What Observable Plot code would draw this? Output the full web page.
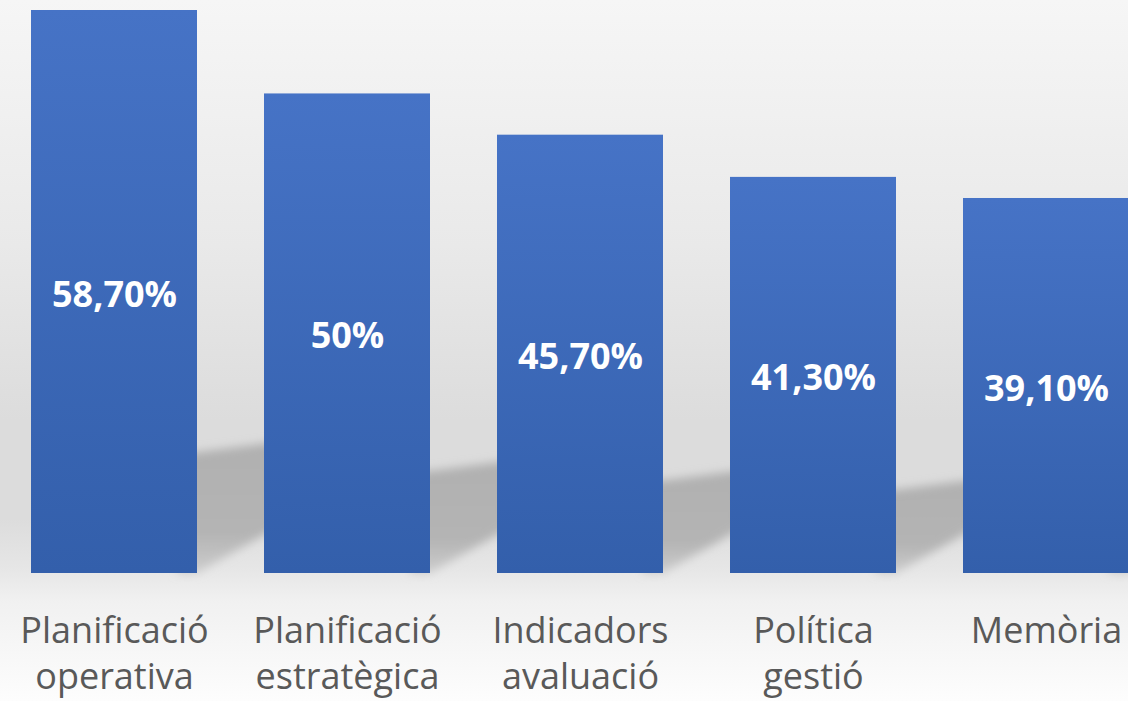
<!DOCTYPE html>
<html>
<head>
<meta charset="utf-8">
<script src="https://cdn.jsdelivr.net/npm/d3@7"></script>
<script src="https://cdn.jsdelivr.net/npm/@observablehq/plot@0.6"></script>
<style>
  html, body { margin: 0; padding: 0; overflow: hidden; background: #ffffff; }
</style>
</head>
<body>
<div id="chart"></div>
<script>
const categories = ["Planificació operativa", "Planificació estratègica", "Indicadors avaluació", "Política gestió", "Memòria"];
const values = [58.7, 50, 45.7, 41.3, 39.1];
const valueLabels = ["58,70%", "50%", "45,70%", "41,30%", "39,10%"];
const tickLabels = ["Planificació\noperativa", "Planificació\nestratègica", "Indicadors\navaluació", "Política\ngestió", "Memòria"];

const data = categories.map((c, i) => ({category: c, value: values[i], label: valueLabels[i], tick: tickLabels[i]}));

const shadowRatio = 0.225;

const shadowMark = Plot.barY(data, {
  x: "category",
  y: "value",
  render(index, scales, vals, dimensions, context) {
    const g = d3.create("svg:g");
    const defs = g.append("defs");
    const f = defs.append("filter")
      .attr("id", "shadowBlur")
      .attr("x", "-30%").attr("y", "-30%").attr("width", "160%").attr("height", "160%");
    f.append("feGaussianBlur").attr("stdDeviation", 5);
    const sg = defs.append("linearGradient").attr("id", "shadowGrad")
      .attr("x1", 0).attr("y1", 0).attr("x2", 0).attr("y2", 1);
    sg.append("stop").attr("offset", "0%").attr("stop-color", "#b0b0b0");
    sg.append("stop").attr("offset", "70%").attr("stop-color", "#b4b4b4");
    sg.append("stop").attr("offset", "100%").attr("stop-color", "#cdcdcd");
    const bwRaw = scales.x.bandwidth;
    const bw = typeof bwRaw === "function" ? bwRaw() : bwRaw;
    const step = scales.x(categories[1]) - scales.x(categories[0]);
    const gap = step - bw;
    const y0 = scales.y(0);
    for (const i of index) {
      const d = data[i];
      const xr = scales.x(d.category) + bw;
      const ys = scales.y(d.value * shadowRatio);
      const pts = [
        [xr - 20, y0],
        [xr, y0],
        [xr + gap + 10, y0 - 0.57 * (gap + 10)],
        [xr + gap + 10, ys - 4],
        [xr, ys + 6],
        [xr - 20, ys + 6]
      ];
      g.append("path")
        .attr("d", "M" + pts.map(p => p.join(",")).join("L") + "Z")
        .attr("fill", "url(#shadowGrad)")
        .attr("filter", "url(#shadowBlur)");
    }
    return g.node();
  }
});

const plot = Plot.plot({
  width: 1128,
  height: 701,
  style: {
    background: "linear-gradient(to bottom, #f6f6f6 0%, #e9e9e9 35%, #dcdcdc 60%, #dcdcdc 74%, #e6e6e6 81%, #f1f1f1 86%, #fdfdfd 100%)",
    overflow: "hidden"
  },
  x: {domain: categories, range: [-2.5, 1162.5], paddingInner: 0.2876, paddingOuter: 0.1438, axis: null},
  y: {domain: [0, 58.7], range: [573, 10], axis: null},
  marks: [
    shadowMark,
    Plot.barY(data, {x: "category", y: "value", fill: "url(#barGrad)"}),
    Plot.text(data, {
      x: "category", y: d => d.value / 2, text: "label",
      fill: "white", fontWeight: "bold", fontSize: 36,
      fontFamily: "'Open Sans', sans-serif", dy: 3
    }),
    Plot.text(data, {
      x: "category", y: () => 0, text: "tick",
      fill: "#595959", fontSize: 36, lineHeight: 1.27,
      fontFamily: "'Open Sans', sans-serif", lineAnchor: "top", dy: 37
    })
  ]
});

d3.select(plot).insert("defs", ":first-child").html(
  '<linearGradient id="barGrad" x1="0" y1="0" x2="0" y2="1">' +
  '<stop offset="0%" stop-color="#4673c6"/>' +
  '<stop offset="100%" stop-color="#335fab"/>' +
  '</linearGradient>'
);

document.getElementById("chart").appendChild(plot);
</script>
</body>
</html>
